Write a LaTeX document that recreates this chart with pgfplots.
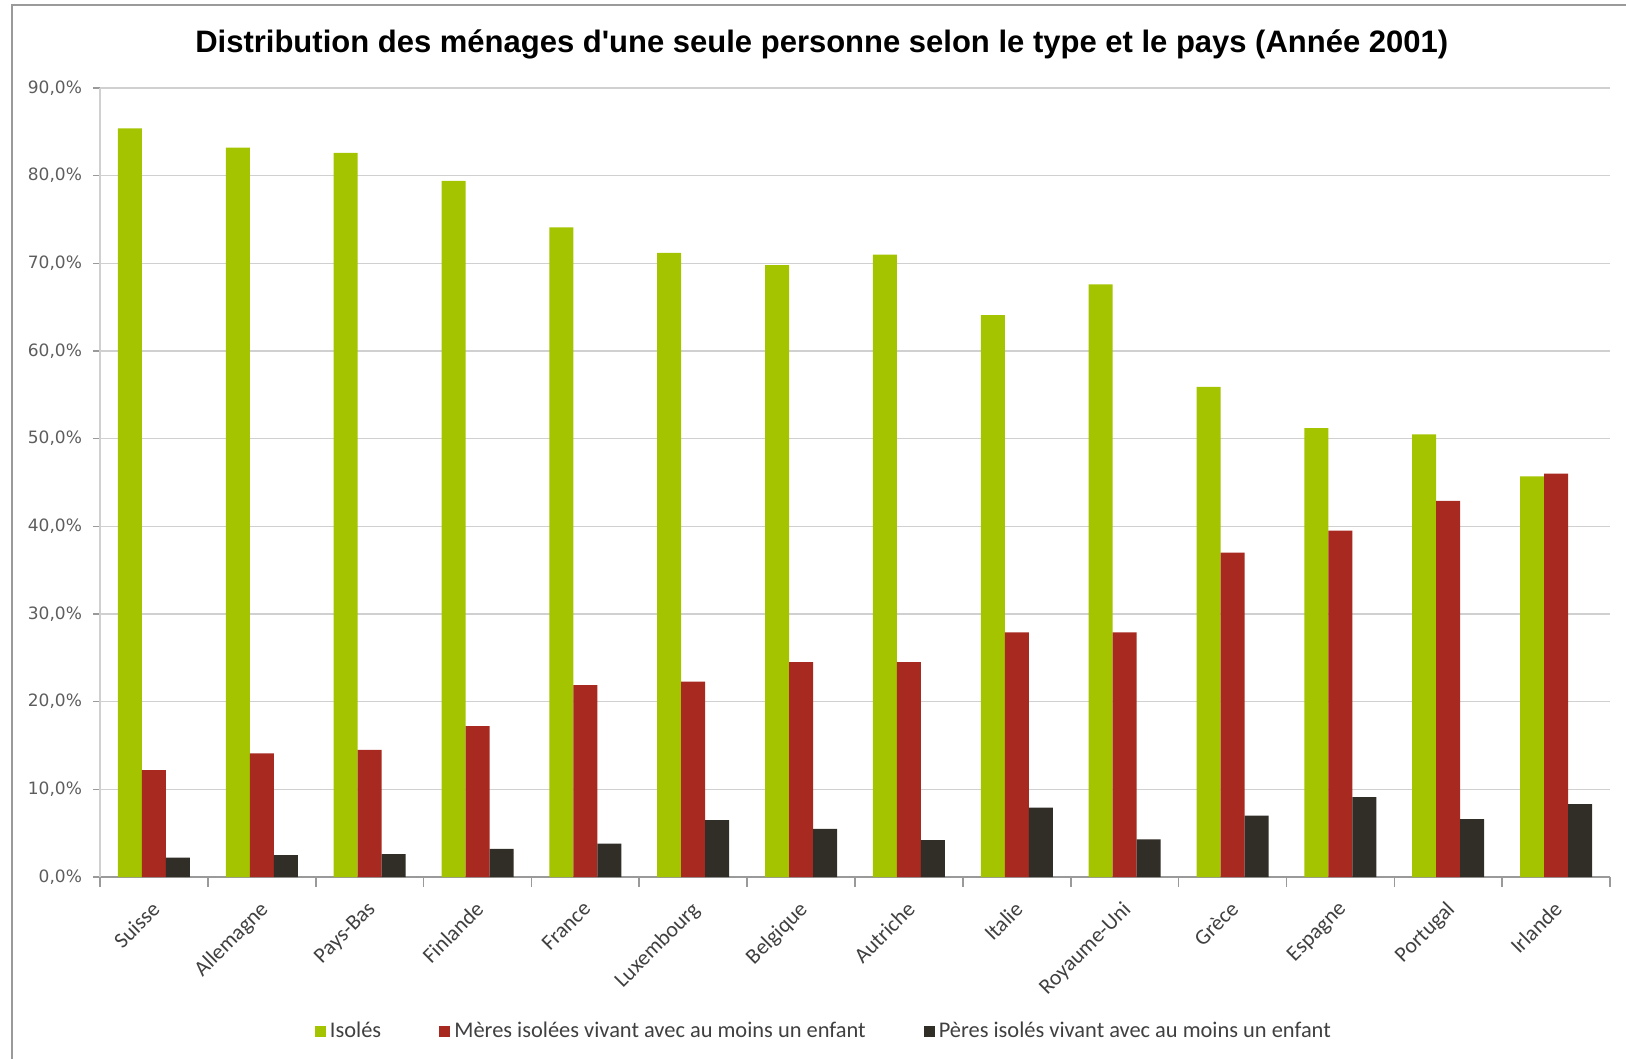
\documentclass[border=0pt]{standalone}
\usepackage{pgfplots}
\pgfplotsset{compat=1.18}
\usepackage{fontspec}
\setmainfont{Carlito}
\newfontfamily\titlefont{Liberation Sans}
\newfontfamily\tickfont{DejaVu Sans}
\definecolor{cgreen}{HTML}{A5C400}
\definecolor{cred}{HTML}{A8291F}
\definecolor{cblack}{HTML}{312D27}
\definecolor{cgrid}{HTML}{D0D0D0}
\definecolor{ctext}{HTML}{404040}
\definecolor{cframe}{HTML}{9A9A9A}
\begin{document}
\begin{tikzpicture}[x=1pt,y=1pt]
\path[use as bounding box] (-50,-91) rectangle (763,438.5);
\draw[cframe, line width=1pt] (-44,-95) -- (-44,436) -- (770,436);
\begin{axis}[
  at={(0,0)}, anchor=south west,
  scale only axis, width=755pt, height=394.5pt,
  xmin=-0.5, xmax=13.5, ymin=0, ymax=90,
  ybar=0pt, bar width=12pt,
  xtick={0,...,13},
  xticklabels={Suisse,Allemagne,Pays-Bas,Finlande,France,Luxembourg,Belgique,Autriche,Italie,Royaume-Uni,Grèce,Espagne,Portugal,Irlande},
  major x tick style={draw=none},
  minor xtick={-0.5,0.5,...,13.5},
  minor tick length=5pt,
  major tick length=3.5pt,
  tick align=outside,
  tick style={cframe, line width=0.8pt},
  ytick={0,10,...,90},
  ymajorgrids,
  grid style={cgrid, line width=0.8pt},
  axis x line*=bottom, axis y line*=left,
  x axis line style={cframe, line width=0.8pt, -},
  y axis line style={cgrid, line width=0.8pt, -},
  /pgf/number format/assume math mode=true,
  yticklabel={\pgfmathprintnumber[fixed,fixed zerofill,precision=1,use comma]{\tick}\%},
  yticklabel style={font=\tickfont\fontsize{8.5}{10}\selectfont, text=ctext!85, xshift=-2pt},
  xticklabel style={rotate=45, anchor=north east, font=\fontsize{10.9}{12}\selectfont, text=ctext, yshift=-1pt, xshift=-3.4pt},
  title={Distribution des ménages d'une seule personne selon le type et le pays (Année 2001)},
  title style={at={(0.478,1.040)}, anchor=center, font=\titlefont\bfseries\fontsize{15.5}{18}\selectfont},
  legend style={at={(0.48,-0.196)}, anchor=center, draw=none, font=\fontsize{11.2}{13}\selectfont, text=ctext,
    /tikz/every even column/.append style={column sep=27pt}},
  legend columns=3,
  legend image code/.code={\fill[#1] (0pt,-2.8pt) rectangle (5.6pt,2.8pt);},
]
\addplot[fill=cgreen, draw=none] coordinates {(0,85.4) (1,83.2) (2,82.6) (3,79.4) (4,74.1) (5,71.2) (6,69.8) (7,71.0) (8,64.1) (9,67.6) (10,55.9) (11,51.2) (12,50.5) (13,45.7)};
\addplot[fill=cred, draw=none] coordinates {(0,12.2) (1,14.1) (2,14.5) (3,17.2) (4,21.9) (5,22.3) (6,24.5) (7,24.5) (8,27.9) (9,27.9) (10,37.0) (11,39.5) (12,42.9) (13,46.0)};
\addplot[fill=cblack, draw=none] coordinates {(0,2.2) (1,2.5) (2,2.6) (3,3.2) (4,3.8) (5,6.5) (6,5.5) (7,4.2) (8,7.9) (9,4.3) (10,7.0) (11,9.1) (12,6.6) (13,8.3)};
\legend{Isolés,Mères isolées vivant avec au moins un enfant,Pères isolés vivant avec au moins un enfant}
\end{axis}
\end{tikzpicture}
\end{document}
